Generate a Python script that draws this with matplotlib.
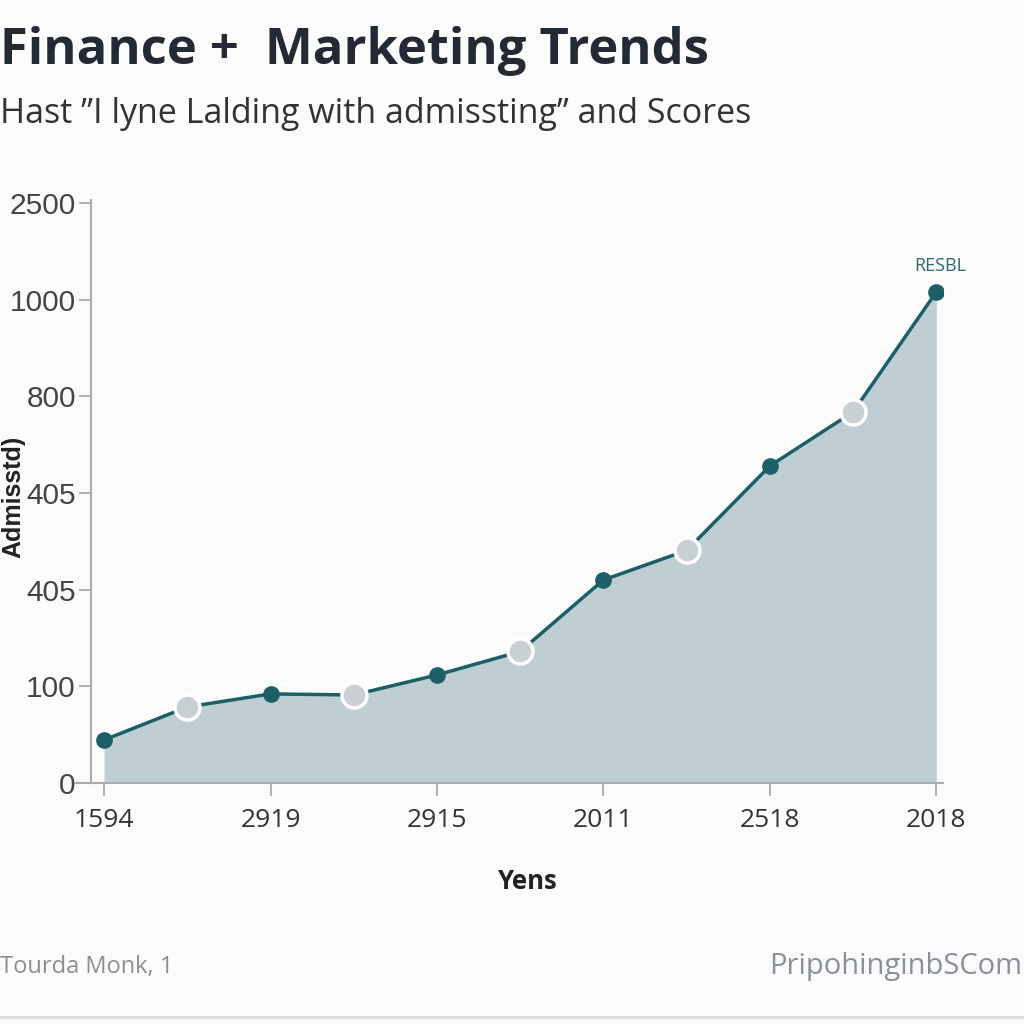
import matplotlib
matplotlib.use("Agg")
import matplotlib.pyplot as plt

# data (y in tick-slot units, the axis labels are not a linear scale)
points = [0, 1, 2, 3, 4, 5, 6, 7, 8, 9, 10]
values = [0.445, 0.786, 0.921, 0.910, 1.117, 1.360, 2.100, 2.405, 3.279, 3.838, 5.079]
open_pts = [False, True, False, True, False, True, False, True, False, True, False]
x_ticks = [0, 2, 4, 6, 8, 10]
x_labels = ['1594', '2919', '2915', '2011', '2518', '2018']
y_ticks = [0, 1, 2, 3, 4, 5, 6]
y_labels = ['0', '100', '405', '405', '800', '1000', '2500']

BG = '#fbfbfb'
TEAL = '#1c5f66'
FILL = '#bfced3'
GREY = '#a9adb0'

fig = plt.figure(figsize=(10.24, 10.24), dpi=100, facecolor=BG)
ax = fig.add_axes([0.0732, 0.2354, 0.8477, 0.5693], facecolor=BG)

ax.fill_between(points, values, 0, color=FILL, lw=0, zorder=1)
ax.plot(points, values, color=TEAL, lw=2.5, zorder=2)
for x, y, o in zip(points, values, open_pts):
    if o:
        ax.plot(x, y, 'o', ms=18, mfc='#c9d0d3', mec='white', mew=2.5, zorder=3)
    else:
        ax.plot(x, y, 'o', ms=11, mfc=TEAL, mec=TEAL, zorder=3)

ax.text(points[-1] + 0.05, values[-1] + 0.18, 'RESBL', color='#2a6a70',
        fontsize=13, ha='center', va='bottom', family='Open Sans')

ax.set_xlim(-0.35, 10.08)
ax.set_ylim(0, 6.03)
ax.spines['left'].set_position(('data', -0.156))
for s in ['top', 'right']:
    ax.spines[s].set_visible(False)
for s in ['left', 'bottom']:
    ax.spines[s].set_color(GREY)
    ax.spines[s].set_linewidth(1.5)

ax.set_xticks(x_ticks)
ax.set_xticklabels(x_labels, family='Open Sans', fontsize=19, color='#333333')
ax.set_yticks(y_ticks)
ax.set_yticklabels(y_labels, family='Liberation Sans', fontsize=21.5, color='#444444')
ax.tick_params(axis='both', colors=GREY, length=9, width=1.3)
ax.tick_params(axis='x', labelcolor='#333333', pad=9)
ax.tick_params(axis='y', labelcolor='#444444', pad=2)

fig.text(0.515, 0.139, 'Yens', family='Open Sans', weight='bold', fontsize=18.5,
         color='#222222', ha='center', va='center')
fig.text(0.0015, 0.515, 'Admisstd)', family='Liberation Sans', weight='bold', fontsize=18,
         color='#222222', rotation=90, ha='left', va='center')

fig.text(0.0, 0.950, 'Finance +  Marketing Trends', family='Open Sans', weight='bold',
         fontsize=36.5, color='#232a33', ha='left', va='center')
fig.text(0.0, 0.889, 'Hast \u201dI lyne Lalding with admissting\u201d and Scores', family='Open Sans',
         fontsize=24.5, color='#333333', ha='left', va='center')

fig.text(0.0, 0.056, 'Tourda Monk, 1', family='Open Sans', fontsize=17,
         color='#8a8f94', ha='left', va='center')
fig.text(0.751, 0.056, 'PripohinginbSCom', family='Open Sans', fontsize=21,
         color='#8a9099', ha='left', va='center')
fig.add_artist(plt.Line2D([0, 1], [0.007, 0.007], color='#dddddd', lw=2))

fig.savefig('out.png', dpi=100, facecolor=BG)
